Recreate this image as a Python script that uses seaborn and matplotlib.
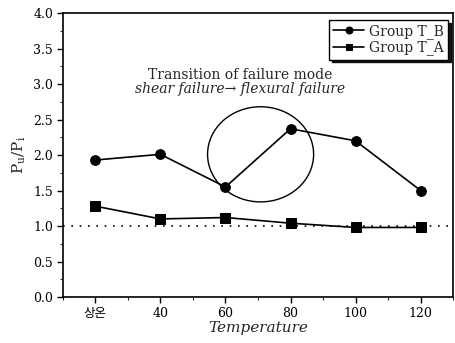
import matplotlib
matplotlib.use("Agg")
import matplotlib.pyplot as plt
import seaborn as sns
import pandas as pd
from matplotlib.patches import Ellipse
from matplotlib.ticker import MultipleLocator, FormatStrFormatter

temps = [20, 40, 60, 80, 100, 120]
tick_labels = ["상온", "40", "60", "80", "100", "120"]
group_tb = [1.93, 2.01, 1.55, 2.37, 2.20, 1.50]
group_ta = [1.28, 1.10, 1.12, 1.04, 0.98, 0.98]

df = pd.DataFrame({
    "Temperature": temps * 2,
    "ratio": group_tb + group_ta,
    "Group": ["Group T_B"] * 6 + ["Group T_A"] * 6,
})

sns.set_style("ticks")
plt.rcParams["font.family"] = ["DejaVu Serif", "Noto Sans CJK KR"]
plt.rcParams["mathtext.fontset"] = "dejavuserif"

fig = plt.figure(figsize=(4.55, 3.43), dpi=100)
ax = fig.add_axes([0.138, 0.134, 0.858, 0.828])

sns.lineplot(data=df, x="Temperature", y="ratio", hue="Group", style="Group",
             markers={"Group T_B": "o", "Group T_A": "s"}, dashes=False,
             palette={"Group T_B": "black", "Group T_A": "black"},
             markersize=7, linewidth=1.2, markeredgecolor="black", ax=ax)

ax.axhline(1.0, color="black", linestyle=(0, (1, 4)), linewidth=1.2)

ax.set_xlim(10, 130)
ax.set_ylim(0, 4.0)
ax.set_xticks(temps)
ax.set_xticklabels(tick_labels)
for lbl in ax.get_xticklabels():
    if lbl.get_text() == "상온":
        lbl.set_fontfamily(["Noto Sans CJK KR"])
        lbl.set_fontsize(7.5)
ax.xaxis.set_minor_locator(MultipleLocator(10))
ax.yaxis.set_major_locator(MultipleLocator(0.5))
ax.yaxis.set_minor_locator(MultipleLocator(0.25))
ax.yaxis.set_major_formatter(FormatStrFormatter("%.1f"))
ax.tick_params(which="major", direction="out", length=4, width=1, labelsize=9, colors="black", pad=3)
ax.tick_params(which="minor", direction="out", length=2, width=0.8)
for s in ax.spines.values():
    s.set_color("black")
    s.set_linewidth(1.2)

ax.set_xlabel("Temperature", fontsize=11, style="italic", labelpad=1)
ax.set_ylabel(r"P$_\mathrm{u}$/P$_\mathrm{i}$", fontsize=11, labelpad=4)

ax.add_patch(Ellipse((70.8, 2.01), 32.6, 1.34, fill=False, edgecolor="black", linewidth=1))
ax.text(64.6, 3.13, "Transition of failure mode", ha="center", va="center", fontsize=10)
ax.text(64.6, 2.93, "shear failure\u2192 flexural failure", ha="center", va="center",
        fontsize=10, style="italic")

leg = ax.legend(loc="upper right", bbox_to_anchor=(0.995, 0.985), frameon=True,
                shadow={"color": "black", "alpha": 0.9, "ox": 2, "oy": -2},
                fancybox=False, fontsize=10, handlelength=2.2, borderpad=0.3,
                labelspacing=0.1, handletextpad=0.4, borderaxespad=0.2)
leg.get_frame().set_edgecolor("black")
leg.get_frame().set_linewidth(1)
for h in leg.legend_handles:
    h.set_markersize(5)

fig.savefig("out.png", dpi=100)
